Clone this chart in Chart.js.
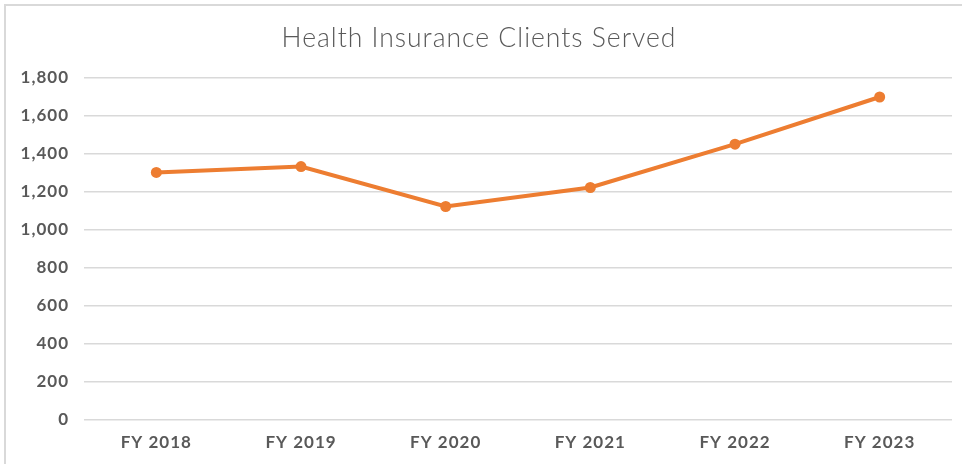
<!DOCTYPE html>
<html>
<head>
<meta charset="utf-8">
<script src="https://cdn.jsdelivr.net/npm/chart.js@4.4.1/dist/chart.umd.min.js"></script>
<style>
  html, body { margin: 0; padding: 0; background: #fff; }
  #frame {
    position: absolute;
    left: 4px;
    top: 4px;
    width: 958px;
    height: 460px;
    border-top: 2px solid #d9d9d9;
    border-left: 2px solid #d9d9d9;
    box-sizing: border-box;
  }
  #wrap { position: relative; width: 956px; height: 458px; }
</style>
</head>
<body>
<div id="frame">
  <div id="wrap"><canvas id="myChart"></canvas></div>
</div>
<script>
"use strict";

// data
const years = ["FY 2018", "FY 2019", "FY 2020", "FY 2021", "FY 2022", "FY 2023"];
const clients = [1302, 1333, 1123, 1223, 1451, 1699];
const yMin = 0;
const yMax = 1800;
const yStep = 200;

const grey = "#595959";
const orange = "#ED7D31";
const fontName = "Lato, 'Open Sans', sans-serif";

// the original font is a bit wider than Lato, so spread the letters a little
const spacing = {
  id: "spacing",
  beforeLayout(chart) {
    chart.ctx.letterSpacing = "1px";
  },
  beforeDraw(chart) {
    chart.ctx.letterSpacing = "1px";
  },
};

const ctx = document.getElementById("myChart").getContext("2d");
const myChart = new Chart(ctx, {
  type: "line",
  data: {
    labels: years,
    datasets: [
      {
        label: "Clients Served",
        data: clients,
        borderColor: orange,
        backgroundColor: orange,
        borderWidth: 4,
        pointRadius: 5.5,
        pointHoverRadius: 5.5,
        pointBorderWidth: 0,
        tension: 0,
      },
    ],
  },
  options: {
    responsive: true,
    maintainAspectRatio: false,
    animation: false,
    layout: {
      padding: { top: 0, right: 10, bottom: 0, left: 0 },
    },
    plugins: {
      legend: { display: false },
      tooltip: { enabled: false },
      title: {
        display: true,
        text: "Health Insurance Clients Served",
        color: grey,
        font: { family: fontName, size: 26.5, weight: 300 },
        padding: { top: 17, bottom: 23 },
      },
    },
    scales: {
      x: {
        offset: true,
        grid: { display: false, drawTicks: false },
        border: { display: false },
        ticks: {
          color: grey,
          font: { family: fontName, size: 17, weight: "bold" },
          padding: 12,
          maxRotation: 0,
        },
        afterFit: (scale) => {
          scale.height = 44;
        },
      },
      y: {
        min: yMin,
        max: yMax,
        grid: { color: "#d9d9d9", lineWidth: 1.5, drawTicks: false },
        border: { display: false },
        ticks: {
          stepSize: yStep,
          color: grey,
          font: { family: fontName, size: 17, weight: "bold" },
          padding: 15,
          callback: (v) => v.toLocaleString("en-US"),
        },
        afterFit: (scale) => {
          scale.width = 78;
        },
      },
    },
  },
  plugins: [spacing],
});
</script>
</body>
</html>
